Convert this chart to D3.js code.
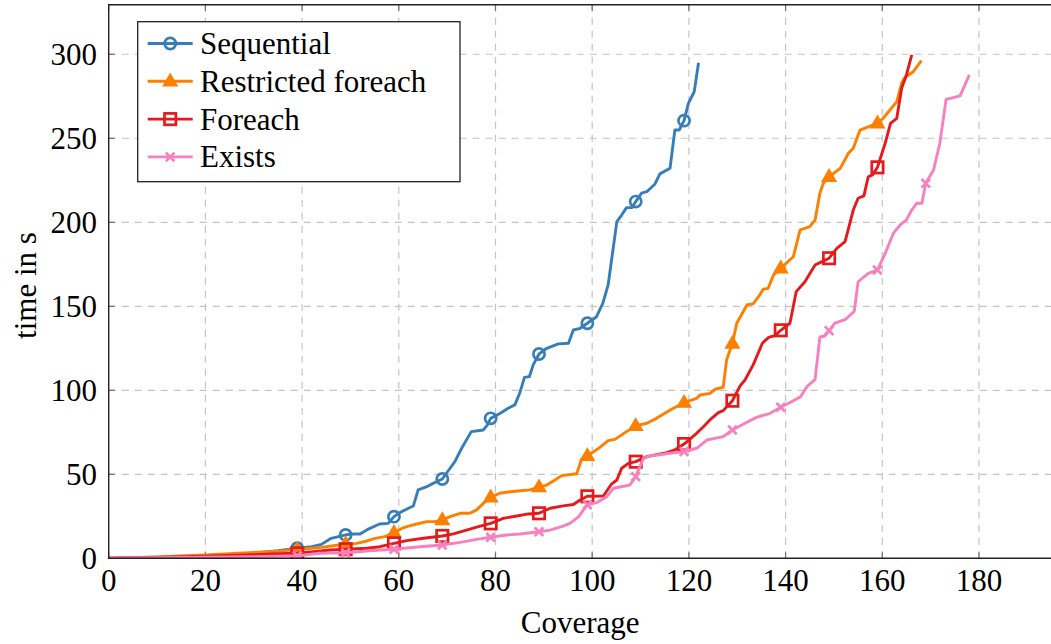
<!DOCTYPE html>
<html>
<head>
<meta charset="utf-8">
<script src="https://cdn.jsdelivr.net/npm/d3@7"></script>
<style>
  html, body { margin: 0; padding: 0; background: #fff; }
  svg { display: block; }
  text { font-family: "Liberation Serif", "DejaVu Serif", serif; fill: #000; }
</style>
</head>
<body>
<svg id="chart" width="1051" height="644"></svg>
<script>
// Runtime (s) against coverage reached, one [coverage, seconds] pair per point
const sequential = [[0,0],[10,0.6],[20,1.5],[30,3],[35,4.5],[39,6],[42,6.9],[44,8.3],[46,11.9],[47.5,12.9],[49,13.9],[50.3,14.5],[52,14.5],[53.7,17.4],[56,20.4],[57.8,20.8],[59,24.8],[60.2,27.2],[62,29.8],[63,31.1],[64,40.7],[65.8,42.6],[67.1,44.6],[69,47.2],[70.6,53.6],[71.6,57.5],[73,65.5],[75,75.4],[77.5,76.4],[78.3,79.3],[79,83.3],[81,86.3],[82.6,89.3],[84,91.3],[85,98.2],[86,107.7],[87,108.1],[87.8,115.1],[89,121.6],[90.6,125],[93,127.6],[95.1,128],[96.1,135.9],[97.5,136.9],[99,139.9],[100.9,143.8],[102.2,151.8],[103.3,162.7],[104.2,181.5],[105.1,200.4],[106.1,204.3],[107.1,208.7],[108.2,208.7],[109,212.3],[110.2,217.3],[111.3,218.2],[113,222.8],[114,228.8],[116.1,232.1],[117.1,254.9],[118,254.9],[119,260.5],[119.9,270.8],[121.1,277.7],[122,295]];

const restrictedForeach = [[0,0],[10,0.8],[20,2],[30,3.5],[35,4.3],[39,5.2],[44,6.5],[49,8.5],[51.3,8.9],[53.4,10.3],[55.1,11.9],[57.1,12.9],[59,15.2],[60.6,17.8],[62,19.2],[63.7,20.4],[65.8,21.8],[67.5,21.8],[69,22.8],[70.6,24.8],[72.7,26.8],[74.7,26.8],[76.1,28.8],[77.5,32.7],[79,36.3],[80.9,38.7],[83,39.6],[85.1,40.2],[87.1,40.7],[89,42.3],[90.6,43.6],[92.3,46.6],[93.7,49.2],[96.8,50.3],[97.8,59],[99,60.9],[101.6,66],[103.3,70],[104.7,70.8],[107.1,75.4],[109,78.8],[111.3,80.4],[113.3,83.3],[116.4,88.7],[119,92.6],[121.6,95.2],[122.3,97.2],[124.4,98.2],[125.4,100.6],[127.1,101.8],[127.8,118],[129,127.8],[129.9,139.9],[132,150.8],[133.3,151.5],[134.7,157],[135.4,160.2],[136.4,160.7],[137.5,168.6],[139,172.6],[141.6,179.5],[143,195.4],[145,197.4],[146.1,201.4],[147.1,217.3],[147.8,223.2],[149,227.1],[151.3,232.1],[153,241.1],[154,244],[155.4,254.9],[156.8,256.5],[159,258.9],[160.2,261.9],[163,271.8],[164,282.7],[164.7,286.3],[166.4,289.6],[168.1,296.2]];

const foreach = [[0,0],[10,0.5],[20,1.2],[30,2.2],[35,2.7],[39,3],[42.3,3.9],[45.8,4.9],[49,5.4],[53.4,6],[56.1,6.9],[59,8.9],[61.6,10.5],[65.1,11.9],[69,13.3],[71.3,14.5],[74,16.8],[76.1,18.5],[79,20.8],[81.6,23.8],[84.4,25.2],[86.8,26.4],[89,26.8],[91.3,29.8],[94,31.2],[96.1,32],[97.5,34.7],[99,36.9],[102.3,37.1],[104,44.2],[105.1,46.6],[106.1,53.6],[107.5,56.5],[109,57.5],[111.3,60.5],[115.4,62.9],[117.1,64.5],[119,68],[121.6,74.4],[123,78.3],[124.7,83.3],[126.1,86.7],[127.1,87.9],[129,93.8],[130.6,102.6],[131.6,106.1],[133.3,115.1],[135.2,128],[136.5,131.5],[137.8,132.5],[139,135.7],[140.9,139.9],[142.2,158.7],[144,164.6],[146.1,174.6],[147.1,176],[149,178.6],[150.6,184.5],[152.3,188.5],[154,207.3],[155,214.3],[156.2,215.7],[157.1,227.1],[158,228.2],[159,232.7],[160.6,247],[161.7,258.9],[163,261.9],[164,279.8],[165,287.7],[166.1,299.6]];

const exists = [[0,0],[10,0.3],[20,0.6],[30,1],[39,1.5],[43.7,3],[49,3.3],[54,4.5],[59,5.4],[64.4,6.9],[69,7.9],[72.7,9.5],[76.1,11.3],[79,12.5],[82.3,13.9],[85.1,14.5],[89,15.8],[91.3,16.8],[94,19.2],[95.4,20.8],[97.2,24.8],[99,31.9],[100.9,33.1],[103,36.7],[104.4,41.7],[107.8,43.6],[109,48.6],[110.6,59.5],[112,60.9],[116.1,62.5],[119,63.5],[121.6,65.5],[123.7,70.4],[127.1,72.4],[129,76.4],[131.3,79.9],[134,83.9],[136.8,86.3],[139,89.9],[141.6,93.8],[143.1,96.2],[144.4,102.1],[146.1,106.5],[147.1,131.7],[148.1,132.3],[149,135.5],[150.2,140],[152.3,142],[154.2,147],[155,164.6],[157.1,169.6],[159,171.6],[160.6,181.5],[162.3,193.5],[163.7,198.4],[165,201.4],[166.1,207.3],[167.1,211.3],[168.2,211.3],[169,223.2],[170.6,231.1],[171.9,247],[173.2,273.2],[176.1,275.2],[178,287.7]];

const seriesNames = ["Sequential", "Restricted foreach", "Foreach", "Exists"];
const seriesColors = ["#377eb8", "#ff7f00", "#e41a1c", "#f781bf"];
const seriesMarks = ["circle", "triangle", "square", "cross"];
const markedCoverage = [39, 49, 59, 69, 79, 89, 99, 109, 119, 129, 139, 149, 159, 169];

const xTicks = [0, 20, 40, 60, 80, 100, 120, 140, 160, 180];
const yTicks = [0, 50, 100, 150, 200, 250, 300];
const xDomain = [0, 195];
const yDomain = [0, 329.5];

const allSeries = [sequential, restrictedForeach, foreach, exists];

const svg = d3.select("#chart");
const plot = { left: 108.7, top: 4.7, right: 1051.5, bottom: 558.3 };

const x = d3.scaleLinear().domain(xDomain).range([plot.left, plot.right]);
const y = d3.scaleLinear().domain(yDomain).range([plot.bottom, plot.top]);

const FONT = 31;
const LINE_W = 2.9;

// dashed major grid
const grid = svg.append("g");
grid.selectAll("line.gx").data(xTicks.filter(t => t > 0)).join("line")
  .attr("x1", d => x(d)).attr("x2", d => x(d))
  .attr("y1", plot.top).attr("y2", plot.bottom)
  .attr("stroke", "#c4c4c4").attr("stroke-width", 1.2).attr("stroke-dasharray", "7,6");
grid.selectAll("line.gy").data(yTicks.filter(t => t > 0)).join("line")
  .attr("x1", plot.left).attr("x2", plot.right)
  .attr("y1", d => y(d)).attr("y2", d => y(d))
  .attr("stroke", "#c4c4c4").attr("stroke-width", 1.2).attr("stroke-dasharray", "7,6");

// inward tick marks (bottom, top, left)
const tickLen = 6;
const ticks = svg.append("g").attr("stroke", "#6e6e6e").attr("stroke-width", 1.2);
xTicks.forEach(t => {
  ticks.append("line").attr("x1", x(t)).attr("x2", x(t)).attr("y1", plot.bottom).attr("y2", plot.bottom - tickLen);
  ticks.append("line").attr("x1", x(t)).attr("x2", x(t)).attr("y1", plot.top).attr("y2", plot.top + tickLen);
});
yTicks.forEach(t => {
  ticks.append("line").attr("x1", plot.left).attr("x2", plot.left + tickLen).attr("y1", y(t)).attr("y2", y(t));
});

// series lines and marks
const line = d3.line().x(d => x(d[0])).y(d => y(d[1])).curve(d3.curveLinear);

function drawMark(g, kind, color, cx, cy) {
  if (kind === "circle") {
    g.append("circle").attr("cx", cx).attr("cy", cy).attr("r", 5.6)
      .attr("fill", "none").attr("stroke", color).attr("stroke-width", 2.7);
  } else if (kind === "triangle") {
    const s = 7.4;
    g.append("path")
      .attr("d", `M${cx},${cy - s} L${cx + s * 0.92},${cy + s * 0.6} L${cx - s * 0.92},${cy + s * 0.6} Z`)
      .attr("fill", color).attr("stroke", color).attr("stroke-width", 1.4).attr("stroke-linejoin", "miter");
  } else if (kind === "square") {
    const s = 5.7;
    g.append("rect").attr("x", cx - s).attr("y", cy - s).attr("width", 2 * s).attr("height", 2 * s)
      .attr("fill", "none").attr("stroke", color).attr("stroke-width", 2.7);
  } else {
    const s = 4.3;
    g.append("path")
      .attr("d", `M${cx - s},${cy - s} L${cx + s},${cy + s} M${cx - s},${cy + s} L${cx + s},${cy - s}`)
      .attr("stroke", color).attr("stroke-width", 2.7).attr("fill", "none");
  }
}

const clipId = "plotClip";
svg.append("clipPath").attr("id", clipId).append("rect")
  .attr("x", plot.left).attr("y", plot.top).attr("width", plot.right - plot.left).attr("height", plot.bottom - plot.top);

allSeries.forEach((data, i) => {
  const g = svg.append("g").attr("clip-path", `url(#${clipId})`);
  g.append("path").datum(data).attr("d", line)
    .attr("fill", "none").attr("stroke", seriesColors[i]).attr("stroke-width", LINE_W)
    .attr("stroke-linejoin", "round").attr("stroke-linecap", "butt");
  data.filter(d => markedCoverage.includes(d[0])).forEach(d => {
    drawMark(g, seriesMarks[i], seriesColors[i], x(d[0]), y(d[1]));
  });
});

// frame
svg.append("path")
  .attr("d", `M${plot.right},${plot.top} L${plot.left},${plot.top} L${plot.left},${plot.bottom} L${plot.right},${plot.bottom}`)
  .attr("fill", "none").attr("stroke", "#222").attr("stroke-width", 1.4);

// tick labels
svg.append("g").selectAll("text").data(xTicks).join("text")
  .attr("x", d => x(d)).attr("y", 590.5).attr("text-anchor", "middle")
  .attr("font-size", FONT).text(d => d);
svg.append("g").selectAll("text").data(yTicks).join("text")
  .attr("x", 97).attr("y", d => y(d) + 10.5).attr("text-anchor", "end")
  .attr("font-size", FONT).text(d => d);

// axis titles
svg.append("text").attr("x", x(97.5)).attr("y", 633).attr("text-anchor", "middle")
  .attr("font-size", FONT).text("Coverage");
svg.append("text").attr("transform", `translate(36,${(plot.top + plot.bottom) / 2 + 4}) rotate(-90)`)
  .attr("text-anchor", "middle").attr("font-size", FONT).text("time in s");

// legend
const legend = svg.append("g");
legend.append("rect").attr("x", 137.7).attr("y", 21.7).attr("width", 322.3).attr("height", 160)
  .attr("fill", "#fff").attr("stroke", "#222").attr("stroke-width", 1.3);
seriesNames.forEach((name, i) => {
  const cy = 43.5 + i * 37.8;
  legend.append("line").attr("x1", 147.7).attr("x2", 192.7).attr("y1", cy).attr("y2", cy)
    .attr("stroke", seriesColors[i]).attr("stroke-width", LINE_W);
  drawMark(legend, seriesMarks[i], seriesColors[i], 170.2, cy);
  legend.append("text").attr("x", 200).attr("y", cy + 10.5).attr("font-size", FONT).text(name);
});
</script>
</body>
</html>
